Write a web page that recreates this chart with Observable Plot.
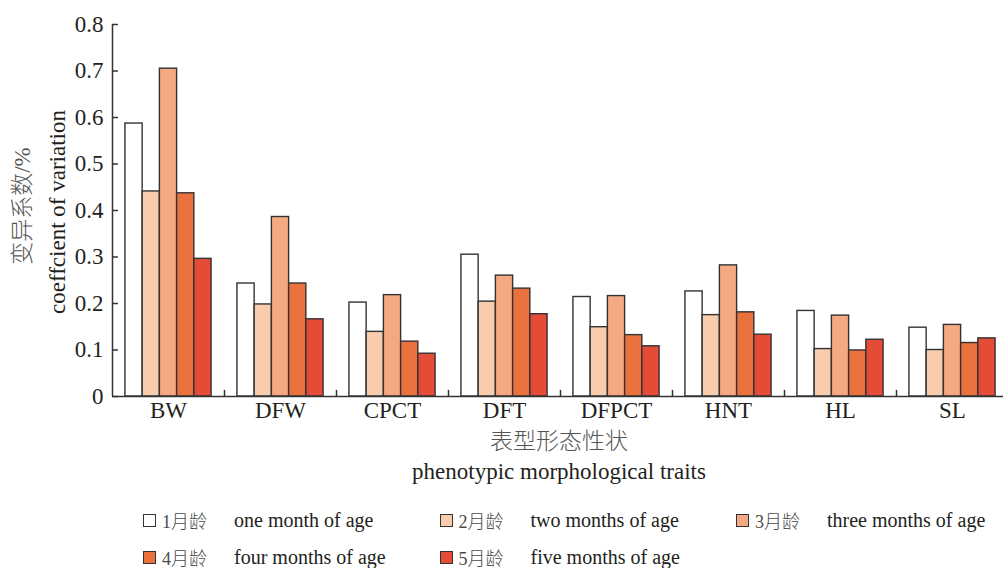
<!DOCTYPE html>
<html>
<head>
<meta charset="utf-8">
<script src="https://cdn.jsdelivr.net/npm/d3@7"></script>
<script src="https://cdn.jsdelivr.net/npm/@observablehq/plot@0.6"></script>
<style>
  html, body { margin: 0; padding: 0; background: #fff; overflow: hidden; }
  #wrap { position: relative; width: 1003px; height: 568px; overflow: hidden;
    font-family: "Liberation Serif", "Noto Sans CJK SC", serif; color: #231f20; }
  #chart { position: absolute; left: 0; top: 0; width: 1011px; }
  #chart svg { max-width: none !important; }
  .t { position: absolute; white-space: nowrap; transform: translate(-50%, -50%); font-size: 23px; line-height: 1; }
  .zh { color: #555; font-weight: 300; }
  .rot { transform: translate(-50%, -50%) rotate(-90deg); }
  .leg { position: absolute; white-space: nowrap; display: flex; align-items: center; transform: translateY(-50%); }
  .sw { width: 13px; height: 13px; border: 1.2px solid #333; box-sizing: border-box; margin-right: 6px; }
  .lz { font-size: 18px; color: #4a4a4a; width: 72px; font-weight: 300; }
  .le { font-size: 20px; color: #231f20; }
</style>
</head>
<body>
<div id="wrap">
  <div id="chart"></div>
  <div class="t zh rot" style="left:22px; top:206px;">变异系数/%</div>
  <div class="t rot" style="left:57px; top:212px;">coeffcient of variation</div>
  <div class="t zh" style="left:559px; top:441px;">表型形态性状</div>
  <div class="t" style="left:559px; top:471px;">phenotypic morphological traits</div>
  <div id="legend"></div>
</div>
<script>
const traits = ["BW", "DFW", "CPCT", "DFT", "DFPCT", "HNT", "HL", "SL"];
const ages = ["1月龄", "2月龄", "3月龄", "4月龄", "5月龄"];
const agesEn = ["one month of age", "two months of age", "three months of age", "four months of age", "five months of age"];
const ageColors = ["#ffffff", "#f9ccad", "#f4a982", "#ea703d", "#e44c38"];
const age1 = [0.587, 0.243, 0.202, 0.305, 0.214, 0.226, 0.184, 0.148];
const age2 = [0.441, 0.198, 0.139, 0.204, 0.149, 0.175, 0.102, 0.100];
const age3 = [0.705, 0.386, 0.218, 0.260, 0.216, 0.282, 0.174, 0.154];
const age4 = [0.437, 0.243, 0.118, 0.232, 0.132, 0.181, 0.099, 0.115];
const age5 = [0.296, 0.166, 0.092, 0.177, 0.108, 0.133, 0.122, 0.125];
const yTicks = [0, 0.1, 0.2, 0.3, 0.4, 0.5, 0.6, 0.7, 0.8];

const series = [age1, age2, age3, age4, age5];
const data = traits.flatMap((t, i) => series.map((s, k) => ({trait: t, age: ages[k], k, value: s[i]})));

const pad = 0.75;                 // outer padding of each group (in bar widths)
const xDom = [-pad, ages.length + pad];
const tickX = 0.345;              // ~6px inward tick length on inner x scale
const tickY = 0.013;              // ~6px tick length on y scale
const ink = "#333";

const chart = Plot.plot({
  width: 1011,
  height: 428,
  marginLeft: 108,
  marginRight: 0,
  marginTop: 24,
  marginBottom: 32,
  style: {fontFamily: "'Liberation Serif', 'Noto Sans CJK SC', serif", fontSize: "23px", color: "#231f20", background: "transparent", overflow: "visible", maxWidth: "none"},
  fx: {domain: traits, padding: 0, label: null, tickSize: 0, tickPadding: 5},
  x: {domain: xDom, axis: null},
  y: {domain: [0, 0.8], ticks: yTicks, tickSize: 0, tickPadding: 9, label: null, tickFormat: d => d === 0 ? "0" : d3.format(".1f")(d)},
  color: {domain: ages, range: ageColors},
  marks: [
    Plot.rectY(data, {fx: "trait", x1: "k", x2: d => d.k + 1, y: "value", fill: "age", stroke: ink, strokeWidth: 1.4}),
    Plot.ruleY(traits, {fx: d => d, y: 0, x1: xDom[0], x2: xDom[1], stroke: ink, strokeWidth: 1.5}),
    Plot.ruleX(traits, {fx: d => d, x: xDom[0], y1: 0, y2: (d, i) => i === 0 ? 0.8 : tickY, stroke: ink, strokeWidth: 1.5}),
    Plot.ruleY(yTicks, {fx: () => traits[0], y: d => d, x1: xDom[0], x2: xDom[0] + tickX, stroke: ink, strokeWidth: 1.5})
  ]
});
document.getElementById("chart").appendChild(chart);

const legend = document.getElementById("legend");
ages.forEach((a, i) => {
  const row = Math.floor(i / 3), col = i % 3;
  const item = document.createElement("div");
  item.className = "leg";
  item.style.left = (143 + col * 296.5) + "px";
  item.style.top = (520 + row * 37) + "px";
  item.innerHTML = `<div class="sw" style="background:${ageColors[i]}"></div><span class="lz">${a}</span><span class="le">${agesEn[i]}</span>`;
  legend.appendChild(item);
});
</script>
</body>
</html>
